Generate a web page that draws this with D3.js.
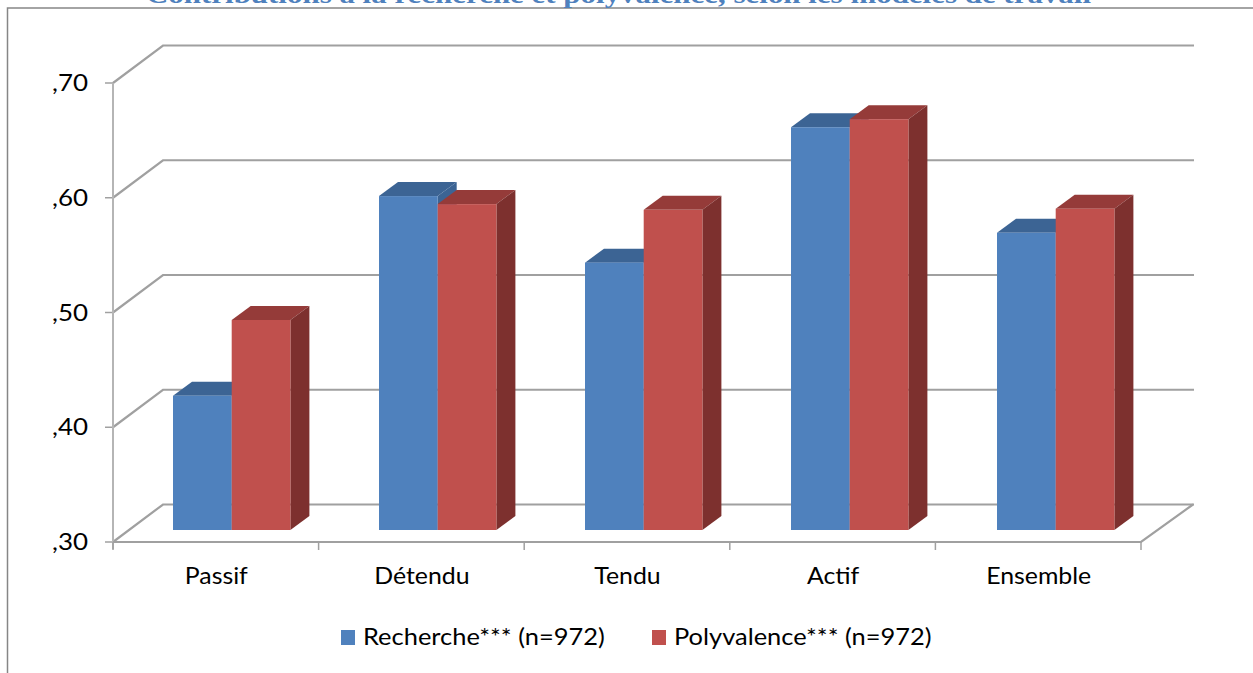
<!DOCTYPE html>
<html><head><meta charset="utf-8">
<script src="https://cdn.jsdelivr.net/npm/d3@7"></script>
<style>html,body{margin:0;padding:0;background:#fff}svg{display:block}</style>
</head><body><svg id="c" width="1253" height="673"></svg>
<script>
const categories = ["Passif","Détendu","Tendu","Actif","Ensemble"];
const recherche = [0.417,0.591,0.533,0.651,0.559];
const polyvalence = [0.483,0.584,0.579,0.658,0.580];
const seriesNames = ["Recherche*** (n=972)","Polyvalence*** (n=972)"];
const yTicks = [0.3,0.4,0.5,0.6,0.7];
const yTickLabels = [",30",",40",",50",",60",",70"];
const titleText = "Contributions à la recherche et polyvalence, selon les modèles de travail";

const svg = d3.select("#c");
const font = "Lato, 'Noto Sans', sans-serif";
const y = d3.scaleLinear().domain([0.3,0.7]).range([542,83]);
const x = d3.scaleBand().domain(categories).range([113,1141]);
const xBars = d3.scaleBand().domain(categories).range([113,1143]);
const dxBack = 50, dyBack = -37.5;
const barDx = 19, barDy = -14;
const barShiftY = -12;
const barW = 58.7;
const grid = "#a0a0a0";

// stretch a text horizontally by a factor, as the reference's glyphs are wider than Lato's
function stretch(sel,f){
  sel.each(function(){
    const w = this.getComputedTextLength();
    d3.select(this).attr("textLength",w*f).attr("lengthAdjust","spacingAndGlyphs");
  });
  return sel;
}

svg.append("path").attr("d","M1253,8H7.5V673").attr("fill","none").attr("stroke","#868686").attr("stroke-width",1.5);
const title = svg.append("text").attr("x",618.5).attr("y",3).attr("text-anchor","middle")
  .attr("font-family","'Liberation Serif',serif").attr("font-weight","bold").attr("font-size",26)
  .attr("fill","#4f81bd").text(titleText);
title.attr("textLength",945).attr("lengthAdjust","spacingAndGlyphs");

yTicks.forEach(t=>{
  const p = d3.path();
  p.moveTo(113,y(t)); p.lineTo(113+dxBack,y(t)+dyBack);
  p.lineTo(1194,y(t)+dyBack);
  svg.append("path").attr("d",p.toString()).attr("fill","none").attr("stroke",grid).attr("stroke-width",2.2);
  svg.append("line").attr("x1",105).attr("x2",113).attr("y1",y(t)).attr("y2",y(t)).attr("stroke",grid).attr("stroke-width",1.5);
});
yTicks.forEach((t,i)=>stretch(svg.append("text").attr("x",88).attr("y",y(t)+8).attr("text-anchor","end")
  .attr("font-family",font).attr("font-size",24).attr("fill","#000").text(yTickLabels[i]),1.08));
svg.append("line").attr("x1",113).attr("x2",113).attr("y1",y(0.7)).attr("y2",y(0.3)+7).attr("stroke","#b5b5b5").attr("stroke-width",2);
const floor = d3.path();
floor.moveTo(113,y(0.3)); floor.lineTo(1141,y(0.3)); floor.lineTo(1141+dxBack+2,y(0.3)+dyBack);
svg.append("path").attr("d",floor.toString()).attr("fill","none").attr("stroke",grid).attr("stroke-width",2.2);
x.domain().concat(["end"]).forEach((c,i)=>{
  const px = 113 + i*x.step();
  svg.append("line").attr("x1",px).attr("x2",px).attr("y1",542).attr("y2",550).attr("stroke",grid).attr("stroke-width",1.5);
});
categories.forEach(c=>stretch(svg.append("text").attr("x",x(c)+x.bandwidth()/2+0.5).attr("y",584).attr("text-anchor","middle")
  .attr("font-family",font).attr("font-size",23).attr("fill","#000").text(c),1.08));

function bar(left,val,front,top,side){
  const yT = y(val)+barShiftY, yB = y(0.3)+barShiftY, r = left+barW;
  svg.append("path").attr("d",`M${left},${yT}L${left+barDx},${yT+barDy}L${r+barDx},${yT+barDy}L${r},${yT}Z`).attr("fill",top);
  svg.append("path").attr("d",`M${r},${yT}L${r+barDx},${yT+barDy}L${r+barDx},${yB+barDy}L${r},${yB}Z`).attr("fill",side);
  svg.append("rect").attr("x",left).attr("y",yT).attr("width",barW).attr("height",yB-yT).attr("fill",front);
}
categories.forEach((c,i)=>{
  const l = xBars(c)+60;
  bar(l,recherche[i],"#4f81bd","#3c6494","#3c6494");
  bar(l+barW,polyvalence[i],"#c0504d","#953b39","#7d302e");
});
[[341,"#4f81bd",363],[652,"#c0504d",674]].forEach((d,i)=>{
  svg.append("rect").attr("x",d[0]).attr("y",630).attr("width",14).attr("height",15).attr("fill",d[1]);
  stretch(svg.append("text").attr("x",d[2]).attr("y",645).attr("font-family",font).attr("font-size",24).attr("fill","#000").text(seriesNames[i]),1.06);
});
</script></body></html>
